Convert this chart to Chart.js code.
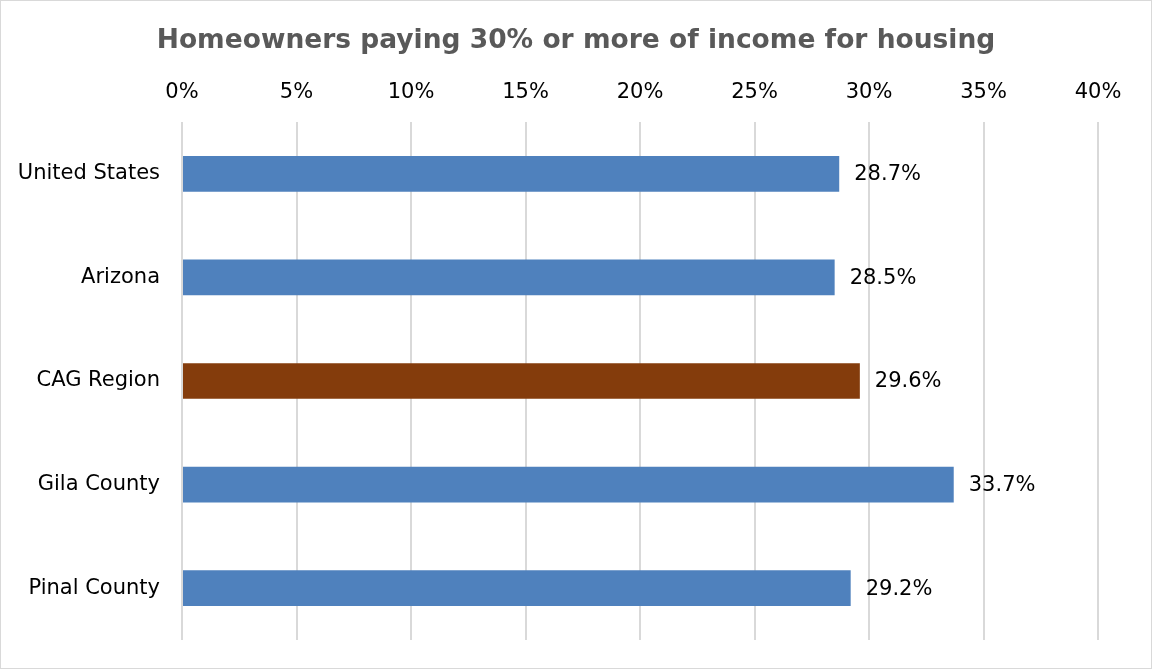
<!DOCTYPE html>
<html>
<head>
<meta charset="utf-8">
<script src="https://cdn.jsdelivr.net/npm/chart.js@4.4.1/dist/chart.umd.min.js"></script>
<style>
  html, body { margin: 0; padding: 0; background: #fff; }
  #wrap { position: relative; width: 1150px; height: 667px; border: 1px solid #d9d9d9; }
</style>
</head>
<body>
<div id="wrap"><canvas id="chart" width="1150" height="667"></canvas></div>
<script>
// data
const categories = ['United States', 'Arizona', 'CAG Region', 'Gila County', 'Pinal County'];
const values = [28.7, 28.5, 29.6, 33.7, 29.2];
const barColors = ['#4F81BD', '#4F81BD', '#843C0C', '#4F81BD', '#4F81BD'];
const xTicks = [0, 5, 10, 15, 20, 25, 30, 35, 40];

const FONT = "'DejaVu Sans', Tahoma, sans-serif";

// draws "28.7%" etc just past the end of each bar
const valueLabels = {
  id: 'valueLabels',
  afterDatasetsDraw(chart) {
    const { ctx } = chart;
    const meta = chart.getDatasetMeta(0);
    ctx.save();
    ctx.font = '21px ' + FONT;
    ctx.fillStyle = '#000';
    ctx.textAlign = 'left';
    ctx.textBaseline = 'middle';
    meta.data.forEach((bar, i) => {
      ctx.fillText(values[i].toFixed(1) + '%', bar.x + 15, bar.y + 1);
    });
    ctx.restore();
  }
};

new Chart(document.getElementById('chart'), {
  type: 'bar',
  data: {
    labels: categories,
    datasets: [{
      data: values,
      backgroundColor: barColors,
      borderWidth: 0,
      barPercentage: 0.345,
      categoryPercentage: 1
    }]
  },
  options: {
    indexAxis: 'y',
    responsive: false,
    animation: false,
    layout: { padding: { left: 0, right: 0, top: 0, bottom: 28 } },
    plugins: {
      legend: { display: false },
      tooltip: { enabled: false },
      title: {
        display: true,
        text: 'Homeowners paying 30% or more of income for housing',
        color: '#595959',
        font: { family: FONT, size: 26.5, weight: 'bold' },
        padding: { top: 24, bottom: 6 }
      }
    },
    scales: {
      x: {
        position: 'top',
        min: 0,
        max: 40,
        afterBuildTicks(scale) { scale.ticks = xTicks.map(v => ({ value: v })); },
        ticks: {
          color: '#000',
          font: { family: FONT, size: 21 },
          padding: 17,
          callback: v => v + '%'
        },
        grid: { color: '#d9d9d9', lineWidth: 2, drawTicks: false },
        border: { display: false }
      },
      y: {
        afterFit(scale) {
          scale.width = 181;
          scale.paddingTop = 0;
          scale.paddingBottom = 0;
        },
        ticks: {
          color: '#000',
          font: { family: FONT, size: 21 },
          padding: 22
        },
        grid: { display: false, drawTicks: false },
        border: { display: false }
      },
      // empty right-hand axis, only keeps the plot clear of the right edge
      yRight: {
        position: 'right',
        afterFit(scale) { scale.width = 53; },
        ticks: { display: false },
        grid: { display: false, drawTicks: false },
        border: { display: false }
      }
    }
  },
  plugins: [valueLabels]
});
</script>
</body>
</html>
